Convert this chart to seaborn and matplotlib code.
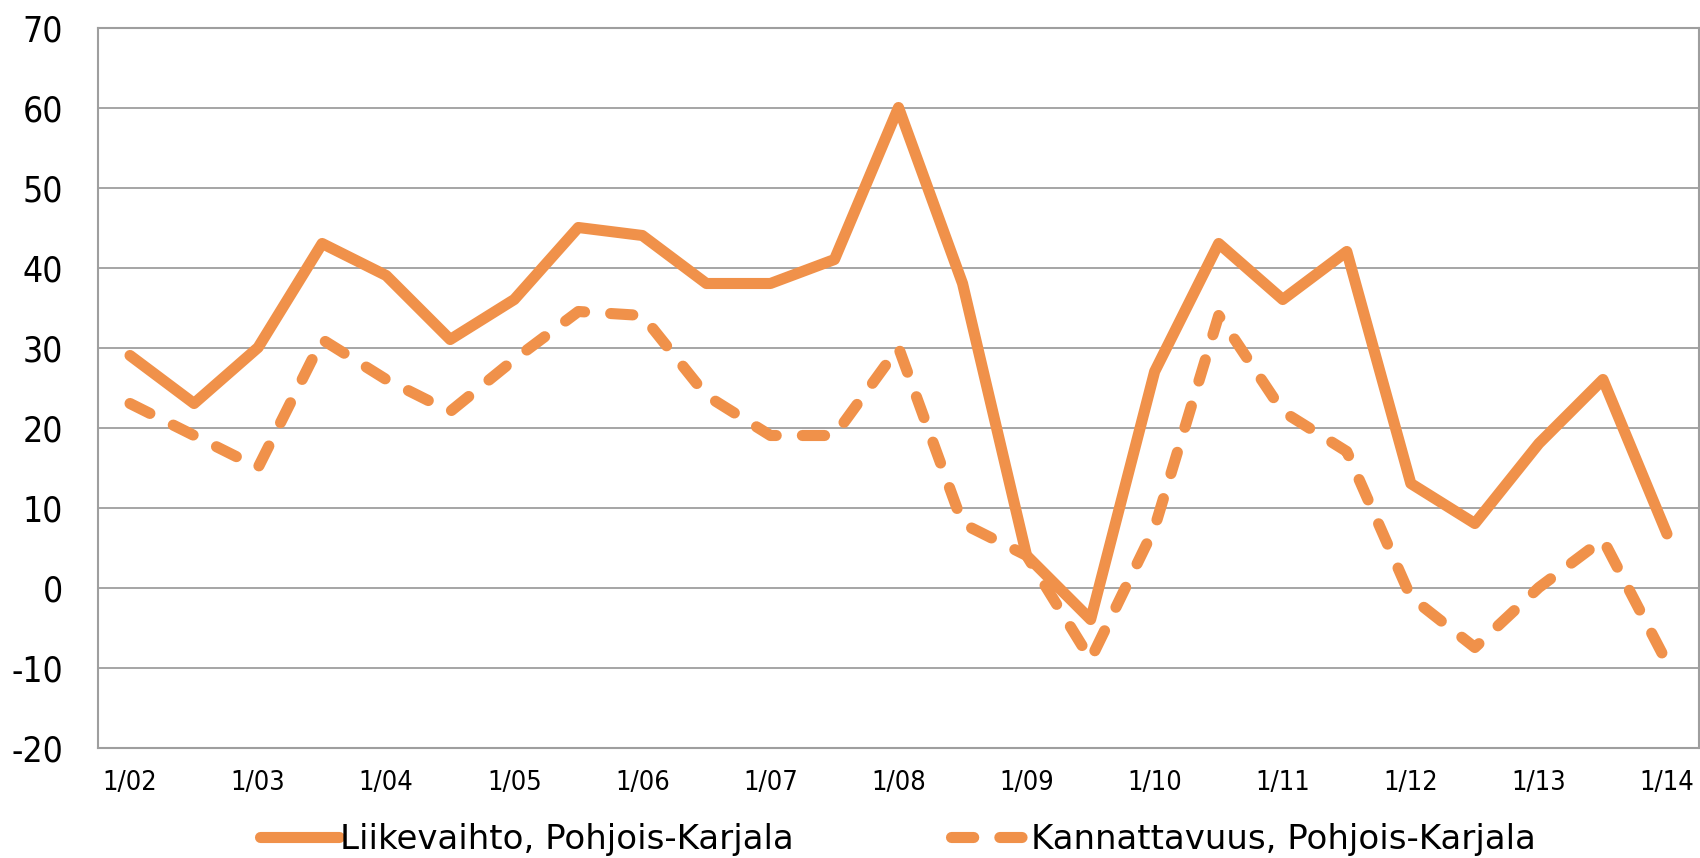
import matplotlib
matplotlib.use("Agg")
import matplotlib.pyplot as plt
import pandas as pd
import seaborn as sns

# half-year points, label on every January
periods = [
    "1/02", "7/02", "1/03", "7/03", "1/04", "7/04", "1/05", "7/05", "1/06",
    "7/06", "1/07", "7/07", "1/08", "7/08", "1/09", "7/09", "1/10", "7/10",
    "1/11", "7/11", "1/12", "7/12", "1/13", "7/13", "1/14",
]
liikevaihto = [29, 23, 30, 43, 39, 31, 36, 45, 44, 38, 38, 41, 60, 38, 4, -4,
               27, 43, 36, 42, 13, 8, 18, 26, 6.7]
kannattavuus = [23, 19, 15, 31, 26, 22, 28.5, 34.5, 34, 24, 19, 19, 30, 8, 4, -9,
                7.5, 34, 22, 17, -1.2, -7.5, 0, 6, -9.4]
series_names = ["Liikevaihto, Pohjois-Karjala", "Kannattavuus, Pohjois-Karjala"]
y_ticks = [-20, -10, 0, 10, 20, 30, 40, 50, 60, 70]

ORANGE = "#F0914A"
GRID = "#9E9E9E"

sns.set_style("white")
plt.rcParams["font.family"] = ["DejaVu Sans"]
plt.rcParams["text.color"] = "black"
plt.rcParams["xtick.color"] = "black"
plt.rcParams["ytick.color"] = "black"

df = pd.DataFrame({"pos": list(range(len(periods))), "period": periods})
df_a = df.assign(value=liikevaihto, series=series_names[0])
df_b = df.assign(value=kannattavuus, series=series_names[1])

fig = plt.figure(figsize=(17, 8.58), dpi=100)
ax = fig.add_axes([98 / 1700, 1 - 747.5 / 858, 1601 / 1700, 720 / 858])

lw = 8
sns.lineplot(data=df_a, x="pos", y="value", ax=ax, color=ORANGE, linewidth=lw,
             sort=False, label=series_names[0])
sns.lineplot(data=df_b, x="pos", y="value", ax=ax, color=ORANGE, linewidth=lw,
             sort=False, label=series_names[1])
lines = ax.get_lines()
for ln in lines:
    ln.set_solid_joinstyle("round")
    ln.set_solid_capstyle("round")
lines[1].set_dashes((2.0, 2.35))
lines[1].set_dash_capstyle("round")
lines[1].set_dash_joinstyle("round")

ax.set_xlim(-0.5, len(periods) - 0.5)
ax.set_ylim(-20, 70)
ax.set_yticks(y_ticks)
ax.set_yticklabels([str(v) for v in y_ticks], fontsize=25.5, fontstretch="condensed")
ax.set_xticks(list(range(0, len(periods), 2)))
ax.set_xticklabels(periods[::2], fontsize=19.5, fontstretch="condensed")
ax.tick_params(axis="y", length=0, pad=25)
ax.tick_params(axis="x", length=0, pad=16)
ax.set_xlabel("")
ax.set_ylabel("")
ax.yaxis.grid(True, color=GRID, linewidth=1.3)
ax.set_axisbelow(True)
for s in ax.spines.values():
    s.set_color(GRID)
    s.set_linewidth(1.5)

ax.get_legend().remove()
handles, labels = ax.get_legend_handles_labels()
fig.legend(handles, labels, loc="center", bbox_to_anchor=(898 / 1700, 19 / 858),
           ncol=2, frameon=False, fontsize=24.5, handlelength=2.3,
           handletextpad=0.05, columnspacing=4.6, borderpad=0)

fig.savefig("out.png", dpi=100)
